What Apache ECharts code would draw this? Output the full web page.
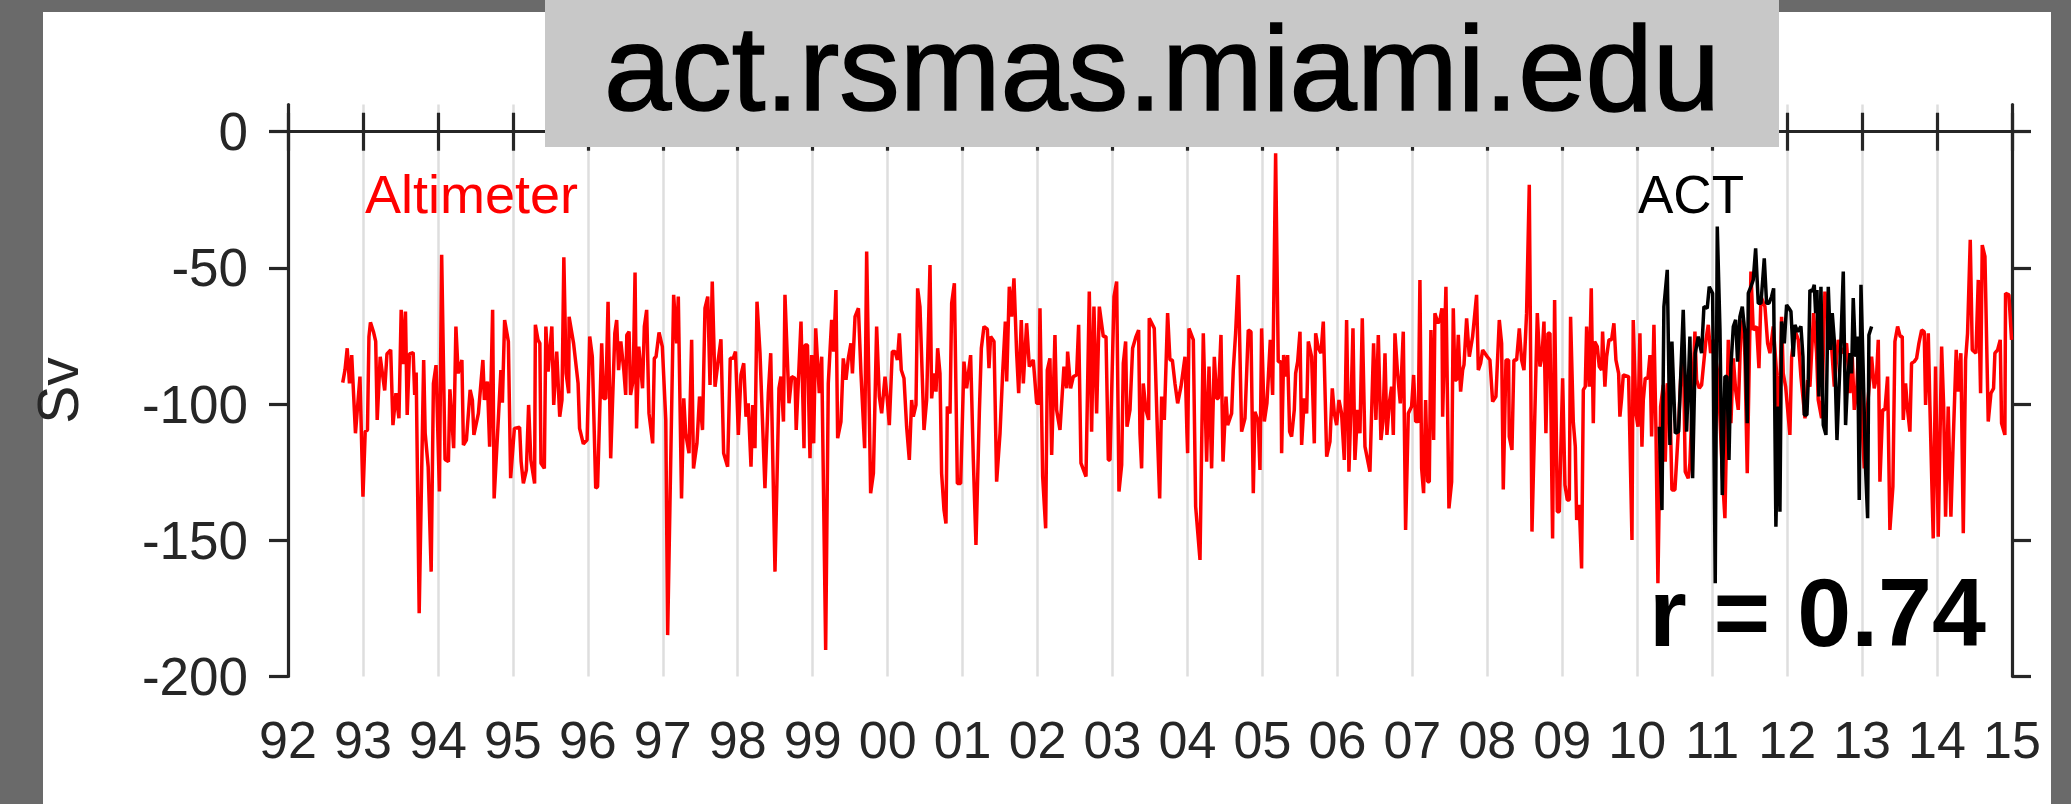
<!DOCTYPE html>
<html>
<head>
<meta charset="utf-8">
<script src="https://cdn.jsdelivr.net/npm/echarts@6/dist/echarts.min.js"></script>
<style>
  html, body { margin: 0; padding: 0; background: #6a6a6a; }
  #panel { position: absolute; left: 43px; top: 12px; width: 2008px; height: 792px; background: #ffffff; }
  #chart { position: absolute; left: 0; top: 0; width: 2071px; height: 804px; }
</style>
</head>
<body>
<div id="panel"></div>
<div id="chart"></div>
<script>
// Altimeter transport (red), decimal year / Sv
var altYears = [
  1992.73, 1992.76, 1992.79, 1992.82, 1992.85, 1992.90, 1992.96, 1993.00, 1993.03, 1993.06,
  1993.08, 1993.10, 1993.14, 1993.17, 1993.19, 1993.23, 1993.29, 1993.32, 1993.37, 1993.40,
  1993.44, 1993.48, 1993.51, 1993.54, 1993.567, 1993.59, 1993.62, 1993.67, 1993.69, 1993.71,
  1993.75, 1993.81, 1993.83, 1993.87, 1993.91, 1993.94, 1993.975, 1994.02, 1994.05, 1994.095,
  1994.14, 1994.16, 1994.21, 1994.24, 1994.27, 1994.32, 1994.34, 1994.38, 1994.43, 1994.46,
  1994.48, 1994.54, 1994.60, 1994.62, 1994.66, 1994.69, 1994.73, 1994.75, 1994.81, 1994.84,
  1994.86, 1994.89, 1994.94, 1994.97, 1995.02, 1995.09, 1995.11, 1995.14, 1995.18, 1995.21,
  1995.24, 1995.29, 1995.30, 1995.335, 1995.36, 1995.375, 1995.42, 1995.44, 1995.47, 1995.52,
  1995.545, 1995.585, 1995.625, 1995.655, 1995.68, 1995.71, 1995.745, 1995.75, 1995.81,
  1995.87, 1995.89, 1995.94, 1995.99, 1996.025, 1996.06, 1996.105, 1996.13, 1996.185, 1996.21,
  1996.24, 1996.27, 1996.305, 1996.36, 1996.385, 1996.41, 1996.44, 1996.48, 1996.505, 1996.52,
  1996.55, 1996.57, 1996.605, 1996.63, 1996.65, 1996.68, 1996.73, 1996.754, 1996.785, 1996.816,
  1996.865, 1996.887, 1996.91, 1996.95, 1996.994, 1997.04, 1997.065, 1997.145, 1997.185, 1997.207,
  1997.25, 1997.28, 1997.305, 1997.35, 1997.385, 1997.41, 1997.456, 1997.49, 1997.53, 1997.563,
  1997.6, 1997.63, 1997.66, 1997.697, 1997.74, 1997.776, 1997.812, 1997.865, 1997.9, 1997.94,
  1997.97, 1998.008, 1998.043, 1998.08, 1998.11, 1998.14, 1998.177, 1998.2, 1998.23, 1998.257,
  1998.297, 1998.363, 1998.408, 1998.44, 1998.497, 1998.55, 1998.577, 1998.61, 1998.63, 1998.684,
  1998.72, 1998.764, 1998.78, 1998.844, 1998.884, 1998.897, 1998.93, 1998.964, 1998.986, 1999.013,
  1999.04, 1999.088, 1999.12, 1999.173, 1999.208, 1999.253, 1999.28, 1999.31, 1999.333, 1999.377,
  1999.408, 1999.444, 1999.475, 1999.51, 1999.53, 1999.565, 1999.61, 1999.644,
  1999.693, 1999.72, 1999.773, 1999.81, 1999.853, 1999.889, 1999.92, 1999.965, 1999.996, 2000.022,
  2000.062, 2000.098, 2000.13, 2000.156, 2000.182, 2000.218, 2000.253, 2000.289, 2000.32, 2000.342,
  2000.378, 2000.4, 2000.431, 2000.485, 2000.52, 2000.565, 2000.587, 2000.618, 2000.645, 2000.667,
  2000.698, 2000.72, 2000.752, 2000.778, 2000.796, 2000.832, 2000.854, 2000.89, 2000.93, 2000.974,
  2001.018, 2001.054, 2001.107, 2001.143, 2001.178, 2001.223, 2001.25, 2001.285, 2001.33, 2001.352,
  2001.374, 2001.419, 2001.454, 2001.499, 2001.534, 2001.57, 2001.588, 2001.623, 2001.654, 2001.685,
  2001.721, 2001.748, 2001.783, 2001.81, 2001.854, 2001.89, 2001.943, 2001.988, 2002.02, 2002.032,
  2002.068, 2002.108, 2002.13, 2002.165, 2002.188, 2002.232, 2002.254, 2002.299, 2002.352, 2002.388,
  2002.401, 2002.441, 2002.477, 2002.521, 2002.548, 2002.579, 2002.646, 2002.69, 2002.721, 2002.752,
  2002.788, 2002.824, 2002.877, 2002.913, 2002.944, 2002.966, 2003.02, 2003.055, 2003.086, 2003.122,
  2003.144, 2003.175, 2003.193, 2003.233, 2003.268, 2003.313, 2003.348, 2003.366, 2003.388, 2003.41,
  2003.446, 2003.482, 2003.49,
  2003.557, 2003.602, 2003.629, 2003.655, 2003.691, 2003.735, 2003.766, 2003.798, 2003.833, 2003.869,
  2003.913, 2003.967, 2003.993, 2004.002, 2004.02, 2004.078, 2004.109, 2004.167, 2004.211, 2004.256,
  2004.287, 2004.322, 2004.358, 2004.389, 2004.411, 2004.447, 2004.474, 2004.514, 2004.536, 2004.589,
  2004.611, 2004.642, 2004.678, 2004.722, 2004.767, 2004.811, 2004.847, 2004.878, 2004.9, 2004.945,
  2004.967, 2004.989, 2005.025, 2005.06, 2005.105, 2005.136, 2005.176, 2005.211, 2005.247, 2005.256,
  2005.283, 2005.323, 2005.336, 2005.363, 2005.389, 2005.425, 2005.443, 2005.47, 2005.501, 2005.523,
  2005.558, 2005.59, 2005.612, 2005.656, 2005.692, 2005.71, 2005.745, 2005.781, 2005.812, 2005.857,
  2005.901, 2005.932, 2005.959, 2005.99, 2006.021, 2006.056, 2006.092, 2006.123, 2006.154, 2006.181,
  2006.208, 2006.234, 2006.27, 2006.301, 2006.332, 2006.368, 2006.434, 2006.483, 2006.514, 2006.546,
  2006.581, 2006.608, 2006.635, 2006.661, 2006.692, 2006.723, 2006.746, 2006.768, 2006.803, 2006.839,
  2006.879, 2006.91, 2006.946, 2006.99, 2007.017, 2007.044, 2007.079, 2007.101, 2007.124, 2007.15,
  2007.177, 2007.204, 2007.226, 2007.248, 2007.284, 2007.301,
  2007.342, 2007.368, 2007.395, 2007.404, 2007.448, 2007.488, 2007.524, 2007.546, 2007.568, 2007.591,
  2007.613, 2007.644, 2007.671, 2007.689, 2007.724, 2007.76, 2007.804, 2007.857, 2007.88, 2007.911,
  2007.938, 2008.0, 2008.035, 2008.071, 2008.115, 2008.16, 2008.191, 2008.213, 2008.249, 2008.284,
  2008.293, 2008.329, 2008.355, 2008.391, 2008.427, 2008.458, 2008.489, 2008.524, 2008.56, 2008.596,
  2008.667, 2008.702, 2008.729, 2008.756, 2008.782, 2008.809, 2008.836, 2008.871, 2008.898, 2008.934,
  2008.96, 2009.005, 2009.036, 2009.067, 2009.094, 2009.111, 2009.147, 2009.174, 2009.192, 2009.227,
  2009.258, 2009.281, 2009.307, 2009.325, 2009.36, 2009.387, 2009.414, 2009.432, 2009.467, 2009.494,
  2009.525, 2009.538, 2009.569, 2009.592, 2009.623, 2009.658, 2009.689, 2009.716, 2009.752, 2009.769,
  2009.792, 2009.814, 2009.885, 2009.93, 2009.947, 2009.983, 2010.01, 2010.036, 2010.063, 2010.081,
  2010.107, 2010.143, 2010.17, 2010.192, 2010.223, 2010.25, 2010.276, 2010.312, 2010.348, 2010.374,
  2010.401, 2010.436, 2010.463, 2010.503, 2010.548, 2010.579, 2010.614, 2010.641, 2010.681, 2010.703,
  2010.77, 2010.792, 2010.828, 2010.859, 2010.917, 2010.948, 2010.979, 2011.014,
  2011.081, 2011.135, 2011.17, 2011.215, 2011.25, 2011.282, 2011.313, 2011.348, 2011.384, 2011.415,
  2011.437, 2011.468, 2011.517, 2011.548, 2011.593, 2011.624, 2011.651, 2011.704, 2011.74, 2011.771,
  2011.815, 2011.86, 2011.89, 2011.926, 2011.948, 2011.98, 2012.037, 2012.06, 2012.104, 2012.149,
  2012.184, 2012.238, 2012.273, 2012.304, 2012.353, 2012.393, 2012.415, 2012.46, 2012.504, 2012.549,
  2012.593, 2012.629, 2012.682, 2012.727, 2012.793, 2012.838, 2012.869, 2012.896, 2012.927, 2012.958,
  2012.993, 2013.029, 2013.065, 2013.127, 2013.162, 2013.193, 2013.216, 2013.238, 2013.274, 2013.305,
  2013.34, 2013.371, 2013.411, 2013.438, 2013.474, 2013.509, 2013.536, 2013.549, 2013.58, 2013.607,
  2013.638, 2013.66, 2013.696, 2013.727, 2013.758, 2013.794, 2013.829, 2013.847, 2013.883, 2013.905,
  2013.949, 2013.98, 2014.016, 2014.061, 2014.087, 2014.114, 2014.149, 2014.185, 2014.216, 2014.256,
  2014.283, 2014.318, 2014.35, 2014.381, 2014.407, 2014.443, 2014.47, 2014.519, 2014.55, 2014.581,
  2014.603, 2014.639, 2014.683, 2014.719, 2014.754, 2014.772, 2014.808, 2014.843, 2014.861, 2014.905,
  2014.914, 2014.959, 2014.994
];
var altValues = [
  -92.1, -87.5, -79.5, -92.4, -82, -110.7, -89.9, -134, -110.1, -109.5,
  -75.2, -70, -73.4, -77, -105.8, -82.6, -95, -81.6, -80.1, -107.7,
  -96, -105.2, -65.4, -85.3, -66, -104, -81.6, -81.1, -96.6, -88.4,
  -176.8, -83.8, -110.7, -123, -161.5, -92.4, -85.7, -132.1, -45.2, -120.3,
  -121.1, -94.6, -116.2, -71.5, -88.7, -83.8, -115, -113.2, -94.8, -98.5,
  -111.3, -103.4, -83.8, -98.5, -91.7, -115.6, -65.4, -134.6, -103.4, -87.5,
  -99.5, -69.1, -77, -127.2, -108.9, -108.5, -121.1, -129.1, -124.2, -100.3,
  -120.5, -129.1, -70.9, -76.4, -77.7, -121.7, -123.6, -71.5, -88.1, -71.5,
  -100.3, -80.7, -104.6, -98.5, -46.1, -88.7, -96, -67.9, -77.7,
  -92.4, -108.9, -114.6, -113.2, -75.2, -82.6, -130.9, -130.3, -77.7, -97.9,
  -97.9, -62.4, -119.9, -74, -69.1, -87.5, -77, -87.5, -96.6, -74.6,
  -73.4, -96.6, -91.1, -51.7, -108.9, -78.9, -94.2, -71.5, -65.4, -103.4,
  -114.4, -83.2, -82.6, -73.7, -78.9, -105.8, -184.8, -59.9, -77.7, -60.5,
  -134.6, -97.9, -110.7, -118, -76.4, -123.6, -114.4, -97.2, -109.5, -64.8,
  -60.5, -93, -55, -93.6, -83.8, -76.2, -118, -123, -83.2, -83.2,
  -80.7, -111.3, -89.3, -85, -104.6, -99.7, -123, -100.3, -116.2, -62.4,
  -81.3, -130.9, -96, -81.3, -161.5, -94.2, -89.9, -106.4, -59.9, -99.7,
  -89.9, -90.5, -109.5, -69.7, -116.2, -78.3, -78.3, -119.9, -82, -114.4,
  -72.2, -96, -82.6, -190.3, -92.4, -69.1, -80.7, -58.1, -112.5, -106.4,
  -83.2, -91.1, -83.2, -77.7, -88.7, -67.9, -64.8, -88.7,
  -116.2, -44, -132.7, -125.4, -71.5, -97.2, -103.4, -89.9, -98.5, -107.7,
  -80.7, -80.7, -83.8, -74, -87.5, -90.5, -108.3, -120.5, -98.5, -104.6,
  -100.3, -57.5, -64.2, -109.5, -98.5, -48.9, -97.9, -88.7, -95.4, -79.5,
  -88.7, -125.4, -138.9, -143.8, -100.9, -103.4, -63, -55.6, -129.1, -129.1,
  -84.4, -94.2, -82, -120.5, -151.7, -103.4, -79.5, -71.5, -72.5, -86.8,
  -75.2, -77, -128.5, -110.7, -88.7, -69.7, -91.7, -56.9, -67.9, -53.8,
  -81.3, -96, -69.1, -92.4, -70.3, -86.2, -83.8, -99.7, -99.7, -64.8,
  -126.6, -145.6, -87.5, -83.2, -118.7, -74.6, -102.1, -109.5, -86.2, -94.2,
  -80.7, -94.2, -89.9, -89.3, -70.9, -121.7, -126.6, -58.7, -110.1, -64.2,
  -103.4, -64.2, -75.2, -75.2, -120.5, -120.5, -60.5, -55, -132.1, -122.3,
  -85, -77, -108.3, -102.1, -79.5, -75.2, -72.8, -110.7, -123.6, -92.4,
  -102.1, -105.8, -68.5,
  -72.2, -113.2, -134.6, -97.2, -105.8, -66.6, -83.8, -83.8, -92.4, -99.7,
  -93.6, -82.6, -110.7, -118, -72.2, -76.4, -137.6, -157.2, -74, -121.1,
  -86.2, -123.6, -82.6, -97.9, -97.9, -74.6, -121.1, -97.2, -107.7, -103.4,
  -87.5, -74, -52.6, -110.1, -105.2, -72.8, -73.4, -132.7, -102.8, -106.4,
  -124.2, -72.2, -106.4, -99.7, -76.4, -96.6, -7.9, -84.4, -84.4, -118,
  -82, -89.9, -82, -110.1, -111.9, -102.1, -88.7, -84.4, -73.4, -115,
  -97.9, -103.4, -77, -82.6, -114.4, -74, -79.5, -81.3, -69.7, -119.3,
  -113.8, -94.2, -103.4, -107.7, -98.5, -103.4, -120.5, -69.1, -124.8, -100.9,
  -72.2, -120.5, -102.1, -110.7, -68.5, -115.6, -124.8, -77.7, -105.8, -74.6,
  -113.2, -106.4, -81.3, -111.3, -99.7, -93.6, -111.3, -74, -88.7, -99.7,
  -73.4, -146.2, -103.4, -100.9, -89.3, -106.4, -106.4, -54.4, -123.6, -132.7,
  -98.5, -128.5, -128.5, -72.8, -113.2, -66.6,
  -70.3, -69.1, -64.8, -104.6, -56.9, -138.3, -128.5, -64.8, -91.1, -91.1,
  -74.6, -95.4, -87.5, -85.6, -68.5, -82.6, -75.2, -59.9, -87.5, -85,
  -80.1, -82.6, -83.8, -99.1, -97.2, -69.1, -77.7, -131.3, -83.8, -83.8,
  -111.9, -116.8, -83.8, -83.8, -72.2, -83.8, -87.5, -66.6, -19.5, -146.8,
  -66.6, -86.2, -82.6, -69.7, -110.7, -74, -74, -149.3, -61.8, -139.5,
  -139.5, -90.5, -129.7, -135.2, -135.2, -67.9, -106.4, -115.6, -142.5, -137,
  -160.3, -94.8, -93.6, -71.5, -93.6, -57.5, -107, -77, -78.9, -86.2,
  -87.5, -73.4, -93.6, -82.6, -76.4, -76.4, -70.3, -83.8, -88.7, -104.6,
  -97.9, -89.3, -89.9, -149.9, -69.1, -103.4, -108.3, -74, -115.6, -98.5,
  -90.5, -90.5, -82, -111.9, -70.9, -109.5, -165.8, -100.9, -93, -121.1,
  -92.4, -97.9, -131.5, -131.5, -110.1, -91.1, -78.3, -124.8, -127.2, -121.7,
  -73.4, -91.1, -94.2, -93, -76.4, -70.9, -81.3, -76.4,
  -89.9, -125.4, -141.9, -76.4, -107, -83.2, -94.8, -102.1, -71.5, -69.1,
  -82.6, -125.4, -51.3, -72.8, -71.5, -86.8, -60.5, -64.2, -77.7, -81.3,
  -71.5, -88.7, -110.7, -67.9, -88.7, -93.6, -111.3, -82.6, -72.8, -76.4,
  -89.9, -105.2, -91.1, -93.6, -66.6, -81.3, -98.5, -105.2, -58.7, -69.1,
  -78.9, -93.6, -76.4, -81.3, -77.7, -96, -82.6, -102.1, -96, -76.4,
  -103.4, -123.6, -103.4, -82.6, -94.2, -89.9, -76.4, -128.5, -102.1, -102.1,
  -89.9, -146.2, -130.3, -77, -71.5, -75.2, -75.2, -105.8, -92.4, -102.1,
  -110.1, -85, -84.4, -83.2, -77.7, -72.8, -73.4, -100.3, -74, -100.9,
  -149.3, -86.2, -148.7, -78.9, -99.7, -141.3, -100.9, -141.3, -113.2, -80.1,
  -95.4, -81.3, -147.4, -83.8, -74, -39.7, -80.1, -81.3, -54.4, -96,
  -41.6, -45.8, -106.4, -96, -94.2, -81.3, -80.1, -76.4, -107, -111.3,
  -59.3, -59.9, -76.4
];

// ACT mooring transport (black)
var actYears = [
  2010.294, 2010.33, 2010.356, 2010.401, 2010.436, 2010.463, 2010.508, 2010.552, 2010.614, 2010.659,
  2010.703, 2010.739, 2010.774, 2010.814, 2010.859, 2010.89, 2010.934, 2010.961, 2011.006, 2011.041,
  2011.068, 2011.104, 2011.135, 2011.17, 2011.197, 2011.224, 2011.25, 2011.282, 2011.313, 2011.339,
  2011.37, 2011.402, 2011.437, 2011.468, 2011.482, 2011.517, 2011.548, 2011.58, 2011.615, 2011.651,
  2011.695, 2011.726, 2011.757, 2011.793, 2011.82, 2011.85, 2011.882, 2011.904, 2011.926, 2011.962,
  2011.993, 2012.024, 2012.051, 2012.082, 2012.104, 2012.14, 2012.184, 2012.211, 2012.229, 2012.264,
  2012.282, 2012.304, 2012.335, 2012.362, 2012.38, 2012.398, 2012.424, 2012.451, 2012.482, 2012.518,
  2012.549, 2012.58, 2012.602, 2012.629, 2012.665, 2012.718, 2012.749, 2012.78, 2012.807, 2012.838,
  2012.86, 2012.882, 2012.913, 2012.94, 2012.962, 2012.985, 2013.016, 2013.047, 2013.074, 2013.091,
  2013.127
];
var actValues = [
  -108.3, -138.9, -64.2, -50.7, -115, -77, -110.7, -110.1, -65.4, -110.1,
  -75.2, -127.2, -81.3, -75.2, -81.3, -64.2, -64.8, -56.9, -59.3, -165.8,
  -34.8, -72.8, -133.4, -89.9, -89.9, -120.5, -86.2, -71.5, -69.1, -84.4,
  -67.9, -64.2, -74, -107, -59.3, -56.9, -54.4, -42.8, -63, -63,
  -46.5, -63, -63, -60.5, -57.5, -145, -100.9, -139.5, -69.7, -77.7,
  -63.6, -64.8, -66, -82.6, -70.9, -73.4, -71.5, -82.6, -104, -104,
  -91.1, -58.1, -58.7, -56.2, -66.6, -58.1, -97.2, -56.9, -107.7, -111.3,
  -56.9, -80.1, -66.6, -76.4, -113.2, -76.4, -51.3, -107.7, -91.1, -81.3,
  -88.7, -61.1, -82.6, -75.2, -135.2, -56.2, -88.7, -124.2, -141.9, -74.6,
  -71.5
];

var xTickLabels = ['92', '93', '94', '95', '96', '97', '98', '99', '00', '01', '02', '03',
  '04', '05', '06', '07', '08', '09', '10', '11', '12', '13', '14', '15'];
var yTickValues = [-200, -150, -100, -50, 0];

var axisColor = '#262626';
var fontFam = '"Liberation Sans", Arial, Helvetica, sans-serif';

function zip(xs, ys) {
  return xs.map(function (x, i) { return [x, ys[i]]; });
}

var chart = echarts.init(document.getElementById('chart'), null, { renderer: 'svg' });

var tickStyle = { show: true, inside: false, length: 19, lineStyle: { color: axisColor, width: 3.2 } };
var lineStyleAxis = { show: true, lineStyle: { color: axisColor, width: 3.2 } };

chart.setOption({
  animation: false,
  backgroundColor: 'transparent',
  grid: { left: 288, top: 104.5, width: 1724, height: 572, containLabel: false },
  xAxis: [
    {
      type: 'value', min: 1992, max: 2015, interval: 1, position: 'bottom',
      axisLine: lineStyleAxis, axisTick: tickStyle,
      axisLabel: {
        margin: 37, color: axisColor, fontSize: 52, fontFamily: fontFam,
        formatter: function (v) { return xTickLabels[Math.round(v) - 1992]; }
      },
      splitLine: { show: true, lineStyle: { color: '#dedede', width: 2.5 } }
    },
    {
      type: 'value', min: 1992, max: 2015, interval: 1, position: 'top',
      axisLine: lineStyleAxis, axisTick: tickStyle,
      axisLabel: { show: false }, splitLine: { show: false }
    }
  ],
  yAxis: [
    {
      type: 'value', min: -200, max: 10, interval: 50, position: 'left',
      axisLine: lineStyleAxis,
      axisTick: { show: true, inside: false, length: 19, customValues: yTickValues,
        lineStyle: { color: axisColor, width: 3.2 } },
      axisLabel: { margin: 40, color: axisColor, fontSize: 53, fontFamily: fontFam, customValues: yTickValues },
      splitLine: { show: false },
      name: 'Sv', nameLocation: 'middle', nameGap: 202, nameRotate: 90,
      nameTextStyle: { color: axisColor, fontSize: 57, fontFamily: fontFam }
    },
    {
      type: 'value', min: -200, max: 10, interval: 50, position: 'right',
      axisLine: lineStyleAxis,
      axisTick: { show: true, inside: false, length: 19, customValues: yTickValues,
        lineStyle: { color: axisColor, width: 3.2 } },
      axisLabel: { show: false }, splitLine: { show: false }
    }
  ],
  series: [
    {
      name: 'Altimeter', type: 'line', data: zip(altYears, altValues),
      showSymbol: false, symbol: 'none', lineStyle: { color: '#ff0000', width: 3.5 }, z: 3
    },
    {
      name: 'ACT', type: 'line', data: zip(actYears, actValues),
      showSymbol: false, symbol: 'none', lineStyle: { color: '#000000', width: 3.5 }, z: 4
    }
  ],
  graphic: [
    { type: 'rect', z: 100, shape: { x: 545, y: 0, width: 1234, height: 147 }, style: { fill: '#c8c8c8' } },
    { type: 'text', z: 101, style: { text: 'act.rsmas.miami.edu', x: 1162, y: 68, align: 'center', verticalAlign: 'middle',
      font: '121px ' + fontFam, fill: '#000000', stroke: '#000000', lineWidth: 1.6 } },
    { type: 'text', z: 50, style: { text: 'Altimeter', x: 365, y: 194, align: 'left', verticalAlign: 'middle',
      font: '54px ' + fontFam, fill: '#ff0000' } },
    { type: 'text', z: 50, style: { text: 'ACT', x: 1638, y: 194, align: 'left', verticalAlign: 'middle',
      font: '53px ' + fontFam, fill: '#000000' } },
    { type: 'text', z: 50, style: { text: 'r = 0.74', x: 1986, y: 612, align: 'right', verticalAlign: 'middle',
      font: 'bold 97px ' + fontFam, fill: '#000000' } }
  ]
});
</script>
</body>
</html>
